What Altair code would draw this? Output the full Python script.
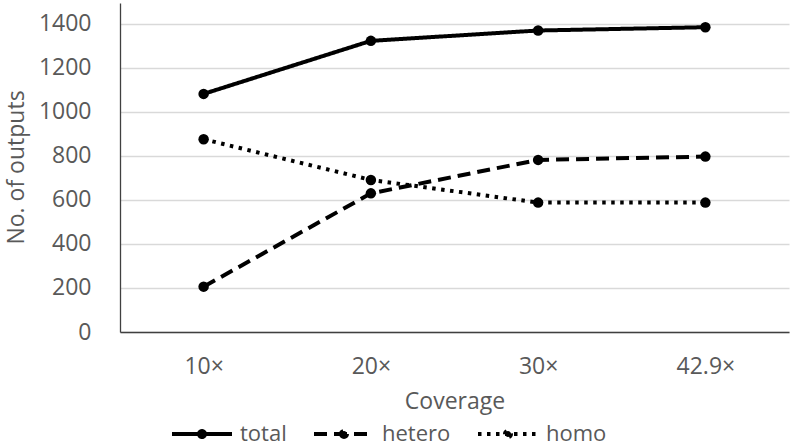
import altair as alt
import pandas as pd

coverage = ["10×", "20×", "30×", "42.9×"]
series = ["total", "hetero", "homo"]
total = [1082, 1323, 1370, 1385]
hetero = [206, 630, 782, 797]
homo = [876, 691, 588, 588]
y_ticks = [0, 200, 400, 600, 800, 1000, 1200, 1400]

rows = []
for name, vals in zip(series, [total, hetero, homo]):
    for c, v in zip(coverage, vals):
        rows.append({"coverage": c, "series": name, "value": v})
df = pd.DataFrame(rows)

FONT = "Open Sans"
TXT = "#595959"
sym_path = "M-1,0L1,0M0.1,0A0.1,0.1 0 1,1 -0.1,0A0.1,0.1 0 1,1 0.1,0Z"

x = alt.X("coverage:N", sort=coverage, scale=alt.Scale(type="point", padding=0.5),
          axis=alt.Axis(title="Coverage", labelAngle=0, ticks=False, labelPadding=23,
                        domainColor="#404040", domainWidth=1.3, grid=False,
                        titlePadding=12))
y = alt.Y("value:Q", scale=alt.Scale(domain=[0, 1495], nice=False, zero=True),
          axis=alt.Axis(title="No. of outputs", values=y_ticks, format="d", ticks=False,
                        labelPadding=29,
                        domainColor="#404040", domainWidth=1.3, gridColor="#d9d9d9",
                        gridWidth=1.3, titleX=-104, titleY=164, titleAngle=-90,
                        titleBaseline="middle", titleAlign="center"))
dash = alt.StrokeDash("series:N", sort=series,
                      scale=alt.Scale(domain=series, range=[[1, 0], [13, 7], [3.5, 5.5]]),
                      legend=alt.Legend(title=None, orient="none", direction="horizontal",
                                        legendX=50, legendY=399, symbolType=sym_path,
                                        symbolSize=3600, symbolStrokeWidth=4,
                                        symbolStrokeColor="black", symbolFillColor="black",
                                        labelOffset=6, columnPadding=19))

lines = alt.Chart(df).mark_line(color="black", strokeWidth=4).encode(x=x, y=y, strokeDash=dash)
pts = alt.Chart(df).mark_point(filled=True, color="black", size=110, opacity=1).encode(
    x=x, y=y)

chart = alt.layer(lines, pts).properties(
    width=669, height=329,
    autosize=alt.AutoSizeParams(type="none"),
    padding={"left": 120, "top": 3, "right": 3, "bottom": 116},
).configure_view(stroke=None).configure_axis(
    labelFont=FONT, titleFont=FONT, labelFontSize=23, titleFontSize=23,
    labelColor=TXT, titleColor=TXT, titleFontWeight="normal",
).configure_legend(labelFont=FONT, labelFontSize=22, labelColor=TXT)

chart.save("out.html", embed_options={"renderer": "svg", "actions": False})
